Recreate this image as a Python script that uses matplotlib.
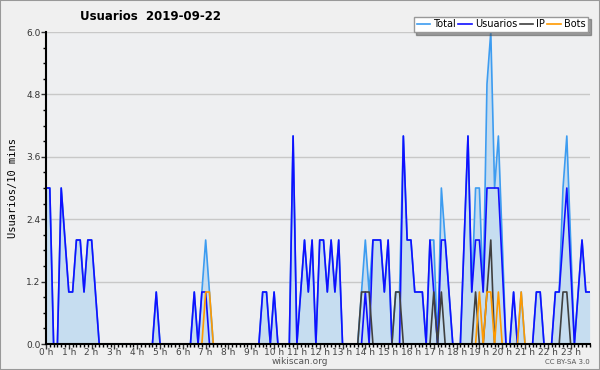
import numpy as np
import matplotlib.pyplot as plt
from matplotlib.patches import Rectangle

# users per 10-minute slot, 2019-09-22 (144 slots)
usuarios = [3, 3, 0, 0, 3, 2,   1, 1, 2, 2, 1, 2,   2, 1, 0, 0, 0, 0,
            0, 0, 0, 0, 0, 0,   0, 0, 0, 0, 0, 1,   0, 0, 0, 0, 0, 0,
            0, 0, 0, 1, 0, 1,   1, 0, 0, 0, 0, 0,   0, 0, 0, 0, 0, 0,
            0, 0, 0, 1, 1, 0,   1, 0, 0, 0, 0, 4,   0, 1, 2, 1, 2, 0,
            2, 2, 1, 2, 1, 2,   0, 0, 0, 0, 0, 0,   1, 0, 2, 2, 2, 1,
            2, 0, 0, 0, 4, 2,   2, 1, 1, 1, 0, 2,   1, 0, 2, 2, 1, 0,
            0, 0, 2, 4, 1, 2,   2, 1, 3, 3, 3, 3,   1.5, 0, 0, 1, 0, 0,
            0, 0, 0, 1, 1, 0,   0, 0, 1, 1, 2, 3,   1.5, 0, 1, 2, 1, 1]

ip = [0, 0, 0, 0, 0, 0,   0, 0, 0, 0, 0, 0,   0, 0, 0, 0, 0, 0,
      0, 0, 0, 0, 0, 0,   0, 0, 0, 0, 0, 0,   0, 0, 0, 0, 0, 0,
      0, 0, 0, 0, 0, 0,   0, 0, 0, 0, 0, 0,   0, 0, 0, 0, 0, 0,
      0, 0, 0, 0, 0, 0,   0, 0, 0, 0, 0, 0,   0, 0, 0, 0, 0, 0,
      0, 0, 0, 0, 0, 0,   0, 0, 0, 0, 0, 1,   1, 1, 0, 0, 0, 0,
      0, 0, 1, 1, 0, 0,   0, 0, 0, 0, 0, 0,   1, 0, 1, 0, 0, 0,
      0, 0, 0, 0, 0, 1,   0, 0, 1, 2, 0, 0,   0, 0, 0, 0, 0, 0,
      0, 0, 0, 0, 0, 0,   0, 0, 0, 0, 1, 1,   0, 0, 0, 0, 0, 0]

bots = [0, 0, 0, 0, 0, 0,   0, 0, 0, 0, 0, 0,   0, 0, 0, 0, 0, 0,
        0, 0, 0, 0, 0, 0,   0, 0, 0, 0, 0, 0,   0, 0, 0, 0, 0, 0,
        0, 0, 0, 0, 0, 0,   1, 1, 0, 0, 0, 0,   0, 0, 0, 0, 0, 0,
        0, 0, 0, 0, 0, 0,   0, 0, 0, 0, 0, 0,   0, 0, 0, 0, 0, 0,
        0, 0, 0, 0, 0, 0,   0, 0, 0, 0, 0, 0,   0, 0, 0, 0, 0, 0,
        0, 0, 0, 0, 0, 0,   0, 0, 0, 0, 0, 0,   0, 0, 0, 0, 0, 0,
        0, 0, 0, 0, 0, 0,   1, 0, 1, 1, 0, 1,   0, 0, 0, 0, 0, 1,
        0, 0, 0, 0, 0, 0,   0, 0, 0, 0, 0, 0,   0, 0, 0, 0, 0, 0]

total = [3, 3, 0, 0, 3, 2,   1, 1, 2, 2, 1, 2,   2, 1, 0, 0, 0, 0,
         0, 0, 0, 0, 0, 0,   0, 0, 0, 0, 0, 1,   0, 0, 0, 0, 0, 0,
         0, 0, 0, 1, 0, 1,   2, 1, 0, 0, 0, 0,   0, 0, 0, 0, 0, 0,
         0, 0, 0, 1, 1, 0,   1, 0, 0, 0, 0, 4,   0, 1, 2, 1, 2, 0,
         2, 2, 1, 2, 1, 2,   0, 0, 0, 0, 0, 1,   2, 1, 2, 2, 2, 1,
         2, 0, 1, 1, 4, 2,   2, 1, 1, 1, 0, 2,   2, 0, 3, 2, 1, 0,
         0, 0, 2, 4, 1, 3,   3, 1, 5, 6, 3, 4,   2, 0, 0, 1, 0, 1,
         0, 0, 0, 1, 1, 0,   0, 0, 1, 1, 3, 4,   2, 0, 1, 2, 1, 1]

hour_labels = ["%d h" % h for h in range(24)]

x = np.arange(len(total))

fig = plt.figure(figsize=(6, 3.7), dpi=100, facecolor="#f0f0f0")
ax = fig.add_axes([46/600, 26/370, 544/600, 312/370])
ax.set_facecolor("#eeeff1")

ax.fill_between(x, total, 0, color="#c6ddf0", lw=0)
ax.plot(x, total, color="#3d9cf0", lw=1.2, label="Total")
ax.plot(x, usuarios, color="#1010ff", lw=1.2, label="Usuarios")
ax.plot(x, ip, color="#404040", lw=1.2, label="IP")
ax.plot(x, bots, color="#ff9a00", lw=1.2, label="Bots")

ax.set_xlim(0, len(total) - 0.9)
ax.set_ylim(0, 6.0)

ax.set_yticks(np.arange(0, 6.01, 1.2))
ax.set_yticklabels(["%.1f" % v for v in np.arange(0, 6.01, 1.2)])
ax.set_yticks(np.arange(0, 6.01, 0.3), minor=True)
ax.set_xticks(np.arange(0, 144, 6))
ax.set_xticklabels(hour_labels)
ax.set_xticks(np.arange(0, 144, 1), minor=True)

ax.tick_params(axis="both", which="major", labelsize=6.5, length=3.5,
               width=1, pad=0.5, colors="#333333")
ax.tick_params(axis="both", which="minor", length=2.5, width=1)
ax.tick_params(axis="x", labelcolor="#444444", pad=-0.5)

ax.grid(axis="y", color="#c8c8c8", lw=1)
ax.set_axisbelow(True)
for s in ["top", "right"]:
    ax.spines[s].set_visible(False)
ax.spines["left"].set_linewidth(1.5)
ax.spines["bottom"].set_linewidth(1.5)

ax.set_ylabel("Usuarios/10 mins", family="DejaVu Sans Mono", fontsize=7.5,
              labelpad=6)

fig.text(151/600, 1 - 16/370, "Usuarios  2019-09-22", ha="center",
         va="center", fontsize=8.5, weight="bold")

leg = ax.legend(loc="upper right", ncol=4, fontsize=7, frameon=True,
                fancybox=False, shadow=True, handlelength=1.4,
                handletextpad=0.3, columnspacing=0.25, borderpad=0.3,
                bbox_to_anchor=(1.006, 1.065))
leg.get_frame().set_edgecolor("#999999")
leg.get_frame().set_linewidth(1)

fig.text(300/600, 1 - 362/370, "wikiscan.org", ha="center", va="center",
         fontsize=6.5, color="#555555")
fig.text(590/600, 1 - 362/370, "CC BY-SA 3.0", ha="right", va="center",
         fontsize=5, color="#555555")

fig.patches.append(Rectangle((0, 0), 1, 1, transform=fig.transFigure,
                             fill=False, edgecolor="#999999", lw=1.5))

fig.savefig("out.png", dpi=100, facecolor=fig.get_facecolor())
